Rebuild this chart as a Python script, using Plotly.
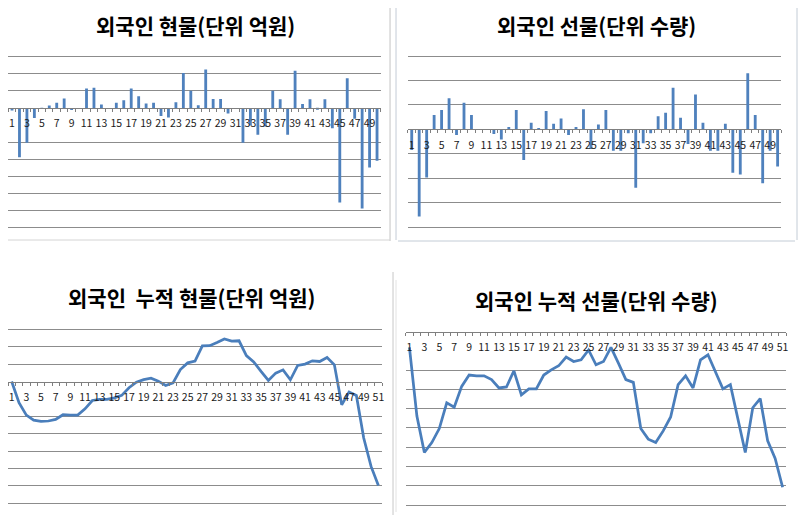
import plotly.graph_objects as go

# The page body keeps the browser's default 8px margin, so the figure is sized to
# fit inside the 812x524 window and reference pixel coordinates are shifted by 8.
WIN_W, WIN_H = 812, 524
OFF = 8
W, H = WIN_W - 2 * OFF, WIN_H - 2 * OFF

# ---------------- data ----------------
days50 = list(range(1, 51))
days51 = list(range(1, 52))

spot_daily = [-300, -5800, -4100, -1200, -50, 280, 600, 1100, -260, 0,
              2260, 2360, 400, 0, 600, 900, 2260, 1360, 500, 600,
              -940, -1120, 660, 4080, 2000, 300, 4500, 1040, 1040, -660,
              0, -4080, -2060, -3160, -2180, 2000, 1000, -3160, 4360, 460,
              1000, -160, 1000, -2380, -11100, 3460, -1280, -11800, -7000, -6200]

fut_daily = [-1680, -7120, -3940, 1180, 1580, 2540, -460, 2180, 1180, 0,
             0, -380, -820, 200, 1580, -2500, 540, 80, 1500, 460,
             900, -460, 200, 1640, -1600, 400, 1580, -1740, -1740, -320,
             -4760, -1140, -320, 1080, 1360, 3400, 960, -1200, 2860, 540,
             -1740, -1740, 460, -3540, -3680, 4580, 1180, -4400, -1740, -3040]

spot_cum = [0, -6100, -9650, -11100, -11450, -11350, -10900, -9550, -9650, -9650,
            -7850, -5450, -5150, -5150, -4700, -4000, -1800, -200, 550, 950,
            100, -1150, -400, 3450, 5350, 5850, 10250, 10300, 11200, 12200,
            11600, 11700, 7450, 5650, 2900, 300, 2400, 3350, 500, 4600,
            5000, 5950, 5750, 6900, 4800, -6700, -3050, -4000, -16250, -24400, -29900]

fut_cum = [-4050, -21900, -31350, -28800, -25150, -18450, -19600, -14200, -11250, -11450,
           -11450, -12450, -14600, -14350, -10150, -16400, -14850, -14850, -11250, -9900,
           -8850, -6600, -7750, -7300, -4750, -8600, -7750, -4050, -8150, -12450,
           -13150, -25150, -27900, -28800, -25750, -22150, -13750, -11450, -14600, -7300,
           -6000, -10300, -14850, -13750, -22350, -31350, -19750, -17350, -28350, -32900, -40400]

titles = ["외국인 현물(단위 억원)", "외국인 선물(단위 수량)",
          "외국인 \u00a0누적 현물(단위 억원)", "외국인 누적 선물(단위 수량)"]

# ---------------- style ----------------
BAR = "#4F81BD"
LINE = "#4A7EBB"
GRID = "#8C8C8C"
AXIS = "#7F7F7F"
FONT = "Noto Sans CJK KR"


def fx(px):
    return (px - OFF) / W


def fy(py):
    return 1 - (py - OFF) / H


panels = [
    dict(kind="bar", x=days50, y=spot_daily, xpx=(8.3, 381.7), ypx=(56.7, 227.3),
         rng=(-14000, 6000), grid=[-14000, -12000, -10000, -8000, -6000, -4000, 2000, 4000, 6000],
         title=titles[0], tpos=(196, 25)),
    dict(kind="bar", x=days50, y=fut_daily, xpx=(409, 783.3), ypx=(56, 227.3),
         rng=(-8000, 6000), grid=[-8000, -6000, -4000, -2000, 2000, 4000, 6000],
         title=titles[1], tpos=(598, 25)),
    dict(kind="line", x=days51, y=spot_cum, xpx=(1, 383), ypx=(329.3, 503.3),
         rng=(-35000, 15000), grid=[-35000, -30000, -25000, -20000, -15000, -10000, 5000, 10000, 15000],
         title=titles[2], tpos=(192, 297)),
    dict(kind="line", x=days51, y=fut_cum, xpx=(406.7, 788.3), ypx=(331.7, 505),
         rng=(-45000, 0), grid=[-45000, -40000, -35000, -30000, -25000, -20000, -15000, -10000],
         title=titles[3], tpos=(598, 300)),
]

fig = go.Figure()
layout = dict(width=W, height=H, margin=dict(l=0, r=0, t=0, b=0),
              paper_bgcolor="white", plot_bgcolor="rgba(0,0,0,0)",
              showlegend=False, annotations=[], shapes=[])

PAD_PX = 3

for i, p in enumerate(panels, start=1):
    xa = "x" if i == 1 else f"x{i}"
    ya = "y" if i == 1 else f"y{i}"
    n = len(p["x"])
    if p["kind"] == "bar":
        fig.add_trace(go.Bar(x=p["x"], y=p["y"], marker=dict(color=BAR, line=dict(width=0)),
                             width=0.38, xaxis=xa, yaxis=ya))
    else:
        fig.add_trace(go.Scatter(x=p["x"], y=p["y"], mode="lines",
                                 line=dict(color=LINE, width=2.75), xaxis=xa, yaxis=ya))
    y_top_px, y_bot_px = p["ypx"]
    ppu = (y_bot_px - y_top_px) / (p["rng"][1] - p["rng"][0])
    pad = PAD_PX / ppu
    r0, r1 = p["rng"][0] - pad, p["rng"][1] + pad
    dom_y = [fy(y_bot_px + PAD_PX), fy(y_top_px - PAD_PX)]
    dom_x = [fx(p["xpx"][0]), fx(p["xpx"][1])]
    pos = dom_y[0] + (0 - r0) / (r1 - r0) * (dom_y[1] - dom_y[0])
    labels = [v for v in p["x"] if v % 2 == 1]
    bounds = [k + 0.5 for k in range(0, n + 1)]
    layout["xaxis" if i == 1 else f"xaxis{i}"] = dict(
        domain=[max(0, dom_x[0]), dom_x[1]], anchor="free", position=pos, range=[0.5, n + 0.5],
        showgrid=False, zeroline=False, showline=True, linecolor=AXIS, linewidth=1,
        tickmode="array", tickvals=labels, ticktext=[str(v) for v in labels],
        ticks="", ticklabelstandoff=6,
        tickfont=dict(family=FONT, size=10.5, color="#1a1a1a"),
        minor=dict(ticks="outside", ticklen=3, tickcolor=AXIS, tickwidth=1,
                   tickmode="array", tickvals=bounds, showgrid=False),
        fixedrange=True)
    layout["yaxis" if i == 1 else f"yaxis{i}"] = dict(
        domain=dom_y, anchor=xa, range=[r0, r1], showgrid=True, gridcolor=GRID, gridwidth=1,
        tickmode="array", tickvals=p["grid"], showticklabels=False, ticks="",
        zeroline=False, showline=False, fixedrange=True)
    layout["annotations"].append(dict(
        text=f"<b>{p['title']}</b>", xref="paper", yref="paper",
        x=fx(p["tpos"][0]), y=fy(p["tpos"][1]), xanchor="center", yanchor="middle",
        showarrow=False, font=dict(family=FONT, size=21, color="black")))


# window / frame chrome of the original spreadsheet screenshot
def vline(xp, y0, y1, color):
    return dict(type="line", xref="paper", yref="paper", x0=fx(xp), x1=fx(xp),
                y0=fy(y0), y1=fy(y1), line=dict(color=color, width=1))


def hline(yp, x0, x1, color):
    return dict(type="line", xref="paper", yref="paper", x0=fx(x0), x1=fx(x1),
                y0=fy(yp), y1=fy(yp), line=dict(color=color, width=1))


layout["shapes"] += [
    vline(391, 8, 241, "#c4c4c4"),
    hline(240, 8, 391, "#d4d4d4"),
    vline(397, 8, 240, "#c3ccd6"),
    vline(799, 8, 240, "#c3ccd6"),
    hline(241, 399, 797, "#c3ccd6"),
    vline(394, 272, 515, "#c8c8c8"),
    vline(397, 280, 512, "#e2e2e2"),
]

fig.update_layout(**layout)
fig.write_html("out.html")
